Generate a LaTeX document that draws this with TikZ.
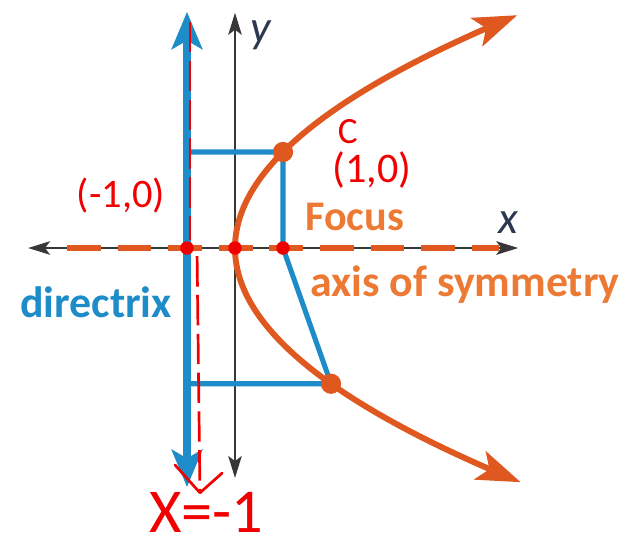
\documentclass[tikz,border=0pt]{standalone}
\usepackage{fontspec}
\setmainfont{Carlito}
\usetikzlibrary{arrows.meta}

\definecolor{dirblue}{RGB}{30,140,200}
\definecolor{parorange}{RGB}{222,88,32}
\definecolor{txtorange}{RGB}{236,122,52}
\definecolor{axisgray}{RGB}{55,55,55}
\definecolor{penred}{RGB}{240,0,0}
\definecolor{labelnavy}{RGB}{45,55,80}

\tikzset{
  axisline/.style={axisgray, line width=1.3pt, {Stealth[length=13pt,width=8pt,inset=3pt]}-{Stealth[length=13pt,width=8pt,inset=3pt]}},
  dirline/.style={dirblue, line width=4.5pt, {Stealth[length=22pt,width=18pt,inset=5pt]}-{Stealth[length=22pt,width=18pt,inset=5pt]}},
  blueseg/.style={dirblue, line width=3pt},
  symline/.style={parorange, line width=3.5pt, dash pattern=on 20pt off 10pt},
  parab/.style={parorange, line width=3.5pt, {Stealth[length=26pt,width=18pt,inset=6pt]}-{Stealth[length=26pt,width=18pt,inset=6pt]}},
  pdot/.style={parorange, fill=parorange, circle, inner sep=0pt, minimum size=12pt},
  reddot/.style={penred, fill=penred, circle, inner sep=0pt, minimum size=8pt},
  penline/.style={penred, line width=1.6pt, dash pattern=on 18pt off 5pt},
  bigtxt/.style={font=\bfseries\fontsize{26}{30}\selectfont, inner sep=0pt, anchor=base west},
  hand/.style={penred, inner sep=0pt}
}

\begin{document}
\begin{tikzpicture}
\useasboundingbox (-4.896,-6.208) rectangle (8.1875,5.167);

\coordinate (V) at (0,0);
\coordinate (F) at (1,0);
\coordinate (P) at (1,2);
\coordinate (Q) at (2,-2.828);
\coordinate (D1) at (-1,2);
\coordinate (D2) at (-1,-2.828);
\coordinate (D0) at (-1,0);
\coordinate (ytop) at (0,4.90);
\coordinate (ybot) at (0,-4.79);
\coordinate (xleft) at (-4.31,0);
\coordinate (xright) at (5.9,0);
\coordinate (dtop) at (-1,4.92);
\coordinate (dbot) at (-1,-4.98);
\coordinate (sleft) at (-3.5,0);
\coordinate (sright) at (5.5,0);

\draw[axisline] (ybot) -- (ytop);
\draw[axisline] (xleft) -- (xright);
\draw[dirline] (dbot) -- (dtop);

\draw[blueseg] (D1) -- (P) -- (F) -- (Q) -- (D2);
\draw[symline] (sleft) -- (sright);
\draw[parab] plot[domain=4.85:-4.88, samples=120, variable=\t] ({\t*\t/4},{\t});

\node[pdot] (Pdot) at (P) {};
\node[pdot] (Qdot) at (Q) {};

\node[labelnavy, font=\itshape\fontsize{27}{30}\selectfont, inner sep=0pt, anchor=base west] (ylab) at (0.31,4.29) {y};
\node[labelnavy, font=\itshape\fontsize{27}{30}\selectfont, inner sep=0pt, anchor=base west] (xlab) at (5.48,0.31) {x};
\node[bigtxt, txtorange, font=\bfseries\fontsize{25}{30}\selectfont] (focus) at (1.46,0.375) {Focus};
\node[bigtxt, txtorange] (axsym) at (1.56,-1.02) {axis of symmetry};
\node[bigtxt, dirblue] (dirlab) at (-4.48,-1.44) {directrix};

% handwritten notes
\coordinate (pen1) at (-0.94,4.71);
\coordinate (pen2) at (-0.94,0.17);
\coordinate (pen3) at (-0.79,-0.17);
\coordinate (pen4) at (-0.73,-5.10);
\coordinate (penl) at (-1.25,-4.52);
\coordinate (penr) at (-0.27,-4.69);
\draw[penline] (pen1) -- (pen2);
\draw[penline] (pen3) -- (pen4);
\draw[penred, line width=1.6pt, line cap=round, line join=round] (penl) -- (pen4) -- (penr);

\node[reddot] (r1) at (D0) {};
\node[reddot] (r2) at (V) {};
\node[reddot] (r3) at (F) {};

\node[hand, font=\fontsize{24}{28}\selectfont] (dirpt) at (-2.375,1.10) {(-1,0)};
\node[hand, font=\fontsize{22}{26}\selectfont] (cnote) at (2.35,2.42) {C};
\node[hand, font=\fontsize{25}{28}\selectfont] (focpt) at (2.85,1.62) {(1,0)};
\node[hand, font=\fontsize{37}{40}\selectfont] (eqn) at (-0.60,-5.50) {X=-1};
\end{tikzpicture}
\end{document}
